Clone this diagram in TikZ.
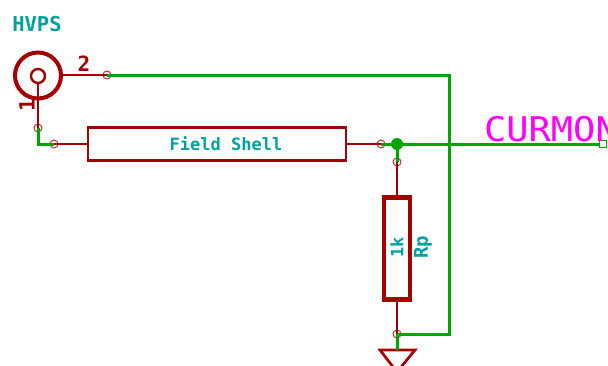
\documentclass[tikz,border=0pt]{standalone}
\usepackage{fontspec}
\setmonofont{DejaVu Sans Mono}
\usepackage{tikz}
\definecolor{kred}{RGB}{165,0,0}
\definecolor{kgreen}{RGB}{0,165,0}
\definecolor{kteal}{RGB}{0,160,160}
\definecolor{kmagenta}{RGB}{255,0,255}
\tikzset{
  wire/.style={draw=kgreen, line width=3pt},
  pinline/.style={draw=kred, line width=2.7pt},
  endmark/.style={circle, draw=kred, line width=1pt, minimum size=8pt, opacity=0.8},
  reflabel/.style={text=kteal, font=\ttfamily\bfseries\fontsize{17}{17}\selectfont},
}

\begin{document}
\begin{tikzpicture}[y=1pt, x=1pt, yscale=-1, inner sep=0pt, outer sep=0pt]

\clip (0,0) rectangle (608,365);

% anchors
\coordinate (jackc) at (38,76);
\coordinate (jackr) at (62,75);
\coordinate (wireturn) at (38,144);
\coordinate (corneru) at (449,75);
\coordinate (cornerd) at (449,334);
\coordinate (gndtop) at (397,350);

% field shell
\node[draw=kred, line width=2.8pt, minimum width=258pt, minimum height=33pt] (shell) at (217,144) {};

% load resistor
\node[draw=kred, line width=4.6pt, minimum width=26pt, minimum height=102pt] (rp) at (397,248.5) {};

% pin ends
\node[endmark] (jack1) at (38,128) {};
\node[endmark] (jack2) at (107,75) {};
\node[endmark] (shellin) at (54,144) {};
\node[endmark] (shellout) at (381,144) {};
\node[endmark] (rptop) at (397,162) {};
\node[endmark] (rpbot) at (397,334) {};
\node[draw=kgreen, line width=1pt, minimum size=7pt] (curport) at (602.5,144) {};
\node[circle, fill=kgreen, minimum size=12pt] (junc) at (397,144) {};

% connector
\draw[kred, line width=4pt] (38,75.5) circle (23pt);
\draw[kred, line width=2.4pt] (jackc) circle (7pt);
\draw[pinline] (jackc) ++(0,7) -- (jack1.center);
\draw[pinline] (jackr) -- (jack2.center);

% red stubs
\draw[pinline] (shellin.center) -- (shell.west);
\draw[pinline] (shell.east) -- (shellout.center);
\draw[pinline] (rptop.center) -- (rp.north);
\draw[pinline] (rp.south) -- (rpbot.center);

% ground
\draw[pinline] (gndtop) ++(-17,0) -- ++(35,0) -- (397,372) -- cycle;

% wires
\draw[wire] (jack1.center) -- (wireturn) -- (shellin.center);
\draw[wire] (shellout.center) -- (curport.west);
\draw[wire] (junc.center) -- (rptop.center);
\draw[wire] (jack2.center) -- (corneru) -- (cornerd) -- (rpbot.center);
\draw[wire] (rpbot.center) -- (gndtop);

% labels
\node[reflabel, font=\ttfamily\bfseries\fontsize{20.5}{20.5}\selectfont] (hvps) at (37,24) {HVPS};
\node[reflabel] (shelltext) at (226,144) {Field Shell};
\node[reflabel, rotate=90] (rpval) at (397,247) {1k};
\node[reflabel, rotate=90, font=\ttfamily\bfseries\fontsize{19}{19}\selectfont] (rpname) at (423,247) {Rp};
\node[text=kred, font=\ttfamily\bfseries\fontsize{21}{21}\selectfont] (pintwo) at (84,64) {2};
\node[text=kred, font=\ttfamily\bfseries\fontsize{21}{21}\selectfont, rotate=90] (pinone) at (27,105) {1};
\node[text=kmagenta, font=\ttfamily\fontsize{34}{34}\selectfont, anchor=west, xscale=1.09] (curmon) at (484,129) {CURMON};

\end{tikzpicture}
\end{document}
